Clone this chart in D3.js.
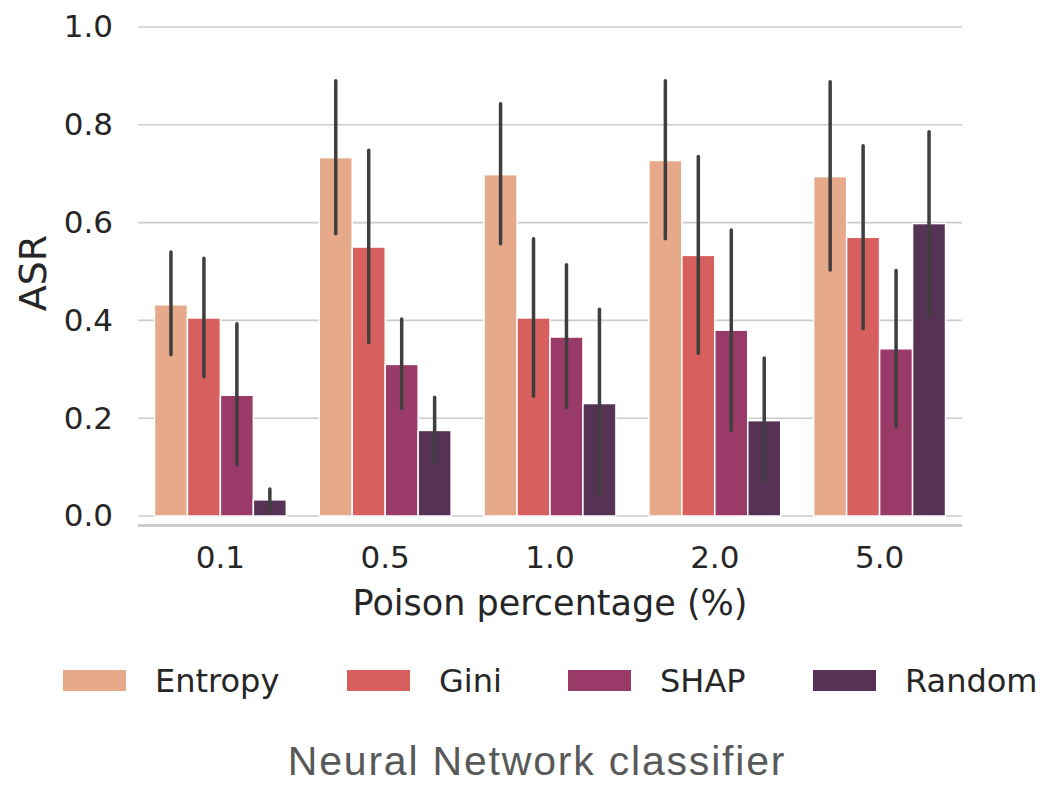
<!DOCTYPE html>
<html>
<head>
<meta charset="utf-8">
<script src="https://cdn.jsdelivr.net/npm/d3@7"></script>
<style>
  body { margin: 0; background: #fff; }
  text { font-family: "DejaVu Sans", sans-serif; }
</style>
</head>
<body>
<div id="chart"></div>
<script>
// donnees
const percentages = ["0.1", "0.5", "1.0", "2.0", "5.0"];
const methods = ["Entropy", "Gini", "SHAP", "Random"];
const myColors = ["#e6a98a", "#d7605f", "#993a68", "#563354"];

// moyenne ASR par methode (meme ordre que percentages)
const entropyMean = [0.432, 0.733, 0.698, 0.727, 0.694];
const giniMean = [0.405, 0.550, 0.405, 0.533, 0.570];
const shapMean = [0.247, 0.310, 0.366, 0.380, 0.342];
const randomMean = [0.033, 0.175, 0.230, 0.195, 0.598];

// barres d'erreur (bas / haut)
const entropyLow = [0.330, 0.577, 0.557, 0.567, 0.503];
const entropyHigh = [0.540, 0.890, 0.843, 0.890, 0.888];
const giniLow = [0.285, 0.355, 0.245, 0.333, 0.383];
const giniHigh = [0.527, 0.748, 0.567, 0.735, 0.757];
const shapLow = [0.105, 0.220, 0.222, 0.175, 0.183];
const shapHigh = [0.393, 0.403, 0.514, 0.585, 0.502];
const randomLow = [0.008, 0.108, 0.042, 0.072, 0.410];
const randomHigh = [0.055, 0.243, 0.423, 0.323, 0.786];

const yTicks = [0, 0.2, 0.4, 0.6, 0.8, 1.0];

const means = [entropyMean, giniMean, shapMean, randomMean];
const lows = [entropyLow, giniLow, shapLow, randomLow];
const highs = [entropyHigh, giniHigh, shapHigh, randomHigh];

const rows = [];
percentages.forEach((p, i) => {
  methods.forEach((m, j) => {
    rows.push({ pct: p, method: m, value: means[j][i], low: lows[j][i], high: highs[j][i] });
  });
});

const width = 1040, height = 786;
const mLeft = 138, mRight = 962, mTop = 27, mBottom = 516;

const svg = d3.select("#chart").append("svg")
  .attr("width", width).attr("height", height);

const x = d3.scaleBand().domain(percentages).range([mLeft, mRight]).padding(0);
const xInner = d3.scaleBand().domain(methods).range([0, x.bandwidth() * 0.8]);
const y = d3.scaleLinear().domain([0, 1]).range([mBottom, mTop]);
const color = d3.scaleOrdinal().domain(methods).range(myColors);

// grille horizontale
svg.append("g")
  .selectAll("line")
  .data(yTicks)
  .enter().append("line")
  .attr("x1", mLeft).attr("x2", mRight)
  .attr("y1", d => y(d)).attr("y2", d => y(d))
  .attr("stroke", "#cccccc").attr("stroke-width", 1.6);

// ligne du bas
svg.append("line")
  .attr("x1", mLeft).attr("x2", mRight)
  .attr("y1", mBottom + 9.5).attr("y2", mBottom + 9.5)
  .attr("stroke", "#cccccc").attr("stroke-width", 3);

// axe y
const yAxis = svg.append("g")
  .attr("transform", "translate(" + mLeft + ",0)")
  .call(d3.axisLeft(y).tickValues(yTicks).tickFormat(d3.format(".1f")).tickSize(0).tickPadding(25));
yAxis.select(".domain").remove();
yAxis.selectAll("text").attr("font-size", 31).attr("fill", "#262626")
  .style("font-family", "DejaVu Sans");

// axe x
const xAxis = svg.append("g")
  .attr("transform", "translate(0," + (mBottom + 9.5) + ")")
  .call(d3.axisBottom(x).tickSize(0).tickPadding(20));
xAxis.select(".domain").remove();
xAxis.selectAll("text").attr("font-size", 31).attr("fill", "#262626")
  .style("font-family", "DejaVu Sans");

// barres
const off = x.bandwidth() * 0.1;
svg.append("g")
  .selectAll("rect")
  .data(rows)
  .enter().append("rect")
  .attr("x", d => x(d.pct) + off + xInner(d.method))
  .attr("width", xInner.bandwidth())
  .attr("y", d => y(d.value))
  .attr("height", d => y(0) - y(d.value))
  .attr("fill", d => color(d.method))
  .attr("stroke", "#ffffff").attr("stroke-width", 1.5);

// barres d'erreur
svg.append("g")
  .selectAll("line")
  .data(rows)
  .enter().append("line")
  .attr("x1", d => x(d.pct) + off + xInner(d.method) + xInner.bandwidth() / 2)
  .attr("x2", d => x(d.pct) + off + xInner(d.method) + xInner.bandwidth() / 2)
  .attr("y1", d => y(d.low)).attr("y2", d => y(d.high))
  .attr("stroke", "#3f3f3f").attr("stroke-width", 3.5).attr("stroke-linecap", "round");

// titres des axes
svg.append("text")
  .attr("transform", "translate(46,273) rotate(-90)")
  .attr("text-anchor", "middle")
  .attr("font-size", 38).attr("fill", "#262626")
  .text("ASR");

svg.append("text")
  .attr("x", (mLeft + mRight) / 2).attr("y", 615)
  .attr("text-anchor", "middle")
  .attr("font-size", 35).attr("fill", "#262626")
  .text("Poison percentage (%)");

// legende
const legendX = [63, 347, 568, 813];
const legend = svg.selectAll(".legend")
  .data(methods)
  .enter().append("g")
  .attr("class", "legend")
  .attr("transform", (d, i) => "translate(" + legendX[i] + ",670)");

legend.append("rect")
  .attr("width", 63).attr("height", 21)
  .attr("fill", d => color(d));

legend.append("text")
  .attr("x", 92).attr("y", 10.5)
  .attr("dy", ".35em")
  .attr("font-size", 32).attr("fill", "#262626")
  .text(d => d);

// titre
svg.append("text")
  .attr("x", 537).attr("y", 775)
  .attr("text-anchor", "middle")
  .attr("font-size", 41).attr("fill", "#595959")
  .style("font-family", "'Liberation Sans', Arial, sans-serif")
  .style("letter-spacing", "1.8px")
  .text("Neural Network classifier");
</script>
</body>
</html>
